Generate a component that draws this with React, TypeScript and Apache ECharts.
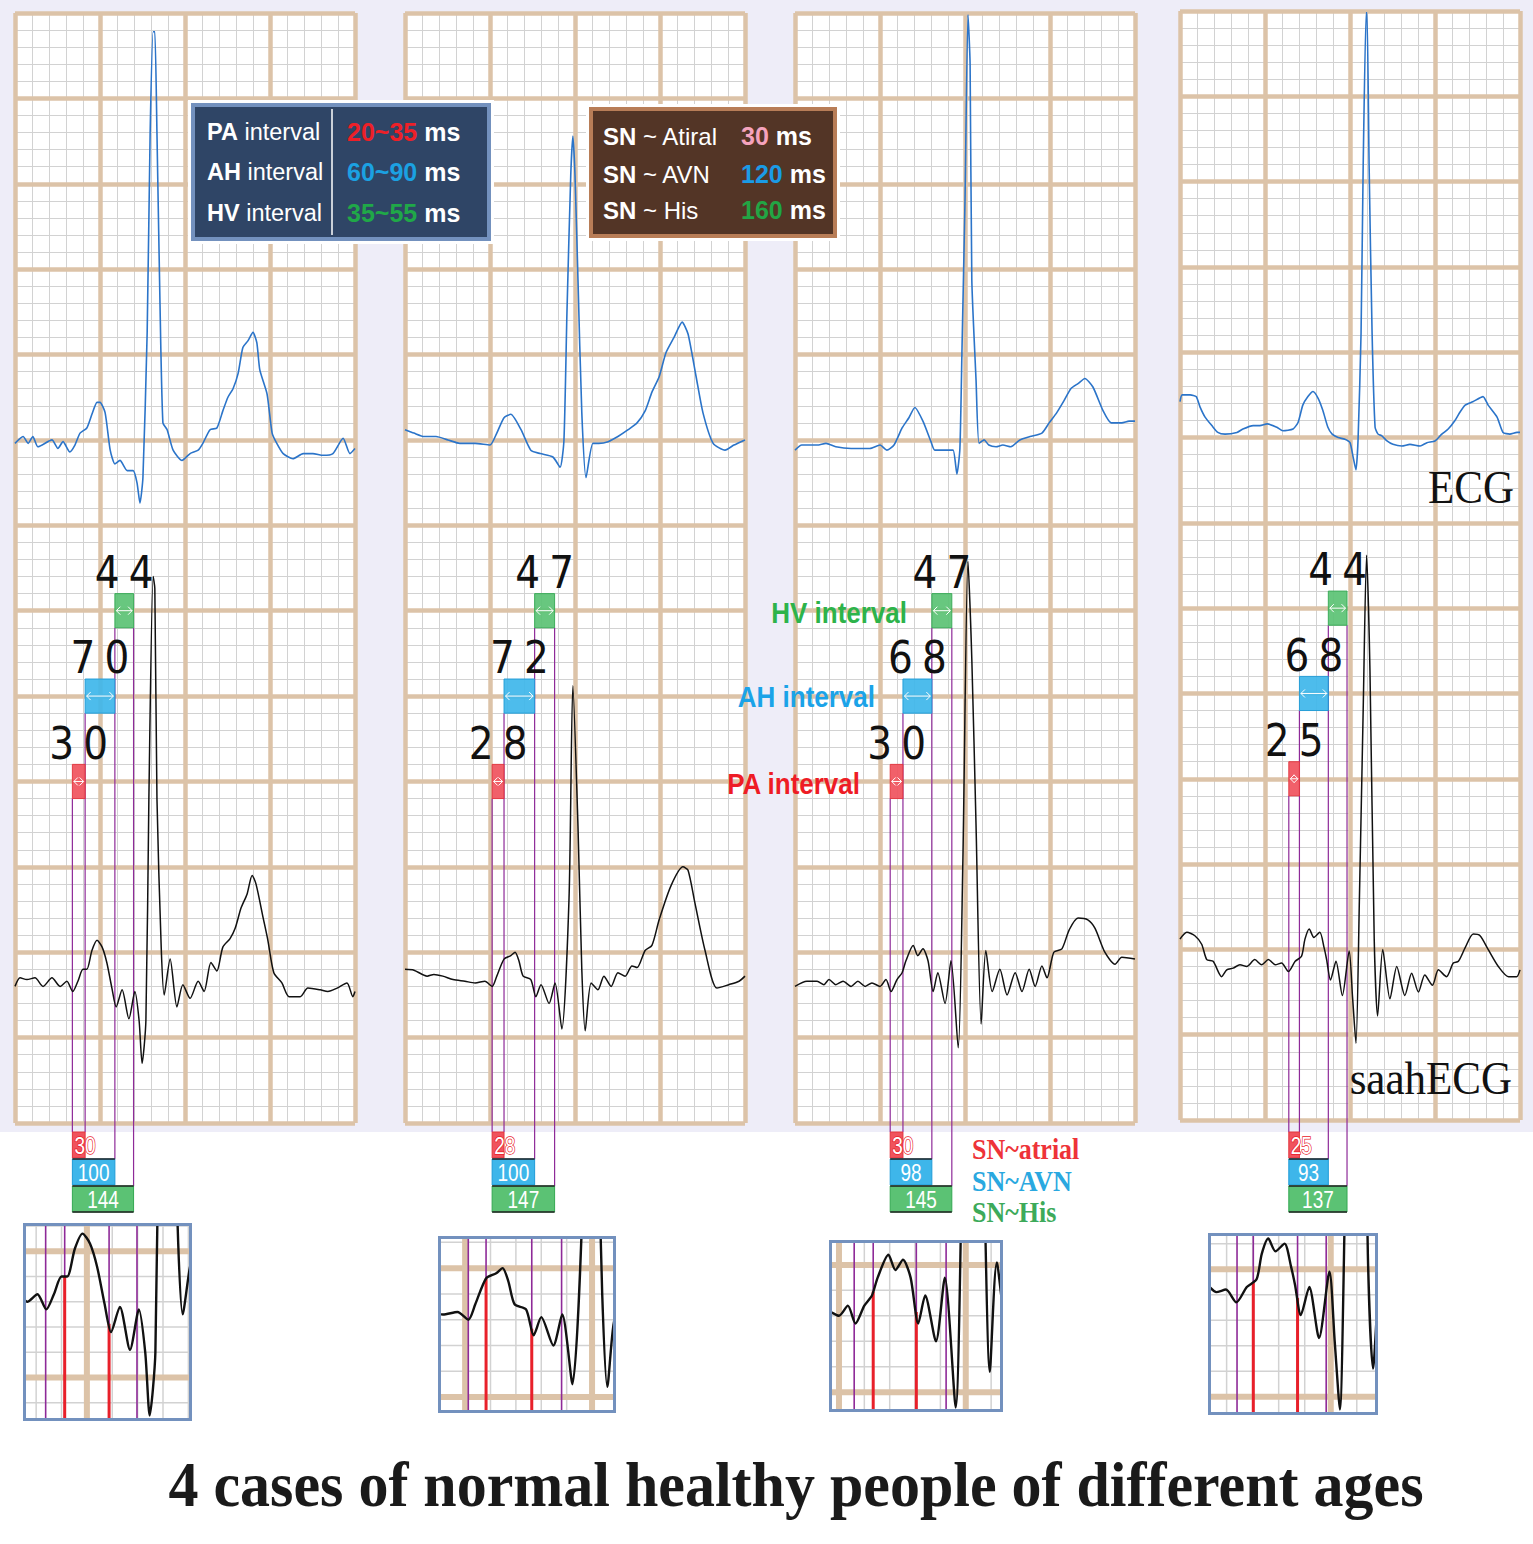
import React, { useEffect, useRef } from "react";
import * as echarts from "echarts";

type Pt = [number, number];

// ---------------- data (time in ms, amplitude in mV on the paper scale) ----------------
const ecgCase1: Pt[] = [[0,3.98],[19,4.02],[31,3.98],[42,4.02],[54,3.96],[87,4.00],[101,3.95],[113,3.99],[129,3.93],[141,3.97],[153,4.04],[169,4.07],[181,4.15],[193,4.22],[200,4.22],[212,4.16],[224,3.94],[235,3.86],[247,3.88],[264,3.82],[278,3.82],[287,3.75],[294,3.63],[301,3.78],[311,4.63],[318,5.80],[325,6.39],[329,6.39],[334,5.80],[341,4.82],[348,4.10],[358,4.06],[372,3.94],[393,3.88],[412,3.92],[431,3.94],[442,3.98],[459,4.06],[475,4.07],[489,4.17],[501,4.25],[513,4.30],[525,4.39],[536,4.54],[548,4.58],[560,4.63],[569,4.57],[576,4.41],[593,4.27],[605,4.04],[616,3.98],[631,3.92],[654,3.89],[678,3.92],[701,3.92],[725,3.91],[748,3.92],[772,4.01],[788,3.92],[800,3.95]];
const saahCase1: Pt[] = [[0,0.80],[12,0.85],[28,0.84],[47,0.85],[66,0.80],[87,0.85],[106,0.80],[122,0.83],[136,0.77],[148,0.83],[160,0.90],[169,0.90],[181,1.01],[193,1.07],[205,1.03],[216,0.94],[228,0.79],[238,0.68],[252,0.78],[268,0.61],[282,0.77],[292,0.60],[299,0.35],[308,0.60],[315,1.90],[325,3.20],[329,3.13],[334,1.90],[344,1.03],[351,0.75],[365,0.96],[381,0.68],[395,0.81],[412,0.73],[431,0.83],[445,0.77],[461,0.94],[475,0.89],[489,1.03],[506,1.08],[518,1.14],[532,1.26],[546,1.34],[558,1.45],[567,1.40],[584,1.20],[595,1.07],[609,0.88],[628,0.82],[645,0.74],[671,0.74],[689,0.79],[718,0.78],[736,0.77],[758,0.79],[781,0.82],[795,0.74],[800,0.77]];
const ecgCase2: Pt[] = [[0,4.06],[21,4.04],[45,4.02],[73,4.02],[101,4.00],[129,3.98],[165,3.98],[200,3.97],[216,4.04],[233,4.13],[249,4.15],[273,4.06],[296,3.94],[318,3.92],[348,3.90],[365,3.84],[374,4.00],[381,4.74],[390,5.55],[395,5.78],[400,5.55],[407,4.94],[416,4.16],[426,3.78],[442,3.98],[456,3.98],[478,3.99],[501,4.02],[525,4.06],[546,4.10],[565,4.17],[581,4.28],[598,4.37],[614,4.51],[633,4.60],[652,4.69],[666,4.62],[685,4.37],[701,4.16],[725,3.98],[753,3.94],[774,3.97],[800,4.00]];
const saahCase2: Pt[] = [[0,0.90],[21,0.895],[52,0.86],[68,0.87],[89,0.86],[113,0.84],[141,0.83],[165,0.82],[188,0.83],[205,0.80],[216,0.86],[233,0.96],[249,0.98],[259,1.00],[268,0.95],[278,0.86],[296,0.84],[308,0.74],[320,0.81],[339,0.70],[353,0.82],[369,0.55],[386,1.32],[395,2.56],[407,1.74],[416,0.90],[424,0.54],[438,0.82],[454,0.78],[468,0.86],[485,0.80],[501,0.88],[518,0.86],[534,0.92],[546,0.91],[565,1.01],[581,1.04],[598,1.19],[626,1.39],[654,1.50],[666,1.48],[682,1.29],[706,1.01],[734,0.79],[762,0.81],[786,0.83],[800,0.86]];
const ecgCase3: Pt[] = [[0,3.94],[16,3.97],[52,3.97],[73,3.98],[96,3.96],[132,3.95],[176,3.95],[200,3.97],[216,3.94],[233,3.97],[252,4.07],[268,4.13],[282,4.19],[301,4.11],[320,3.99],[329,3.94],[360,3.94],[372,3.94],[381,3.80],[388,3.95],[393,4.54],[400,5.40],[407,6.49],[412,6.20],[416,4.94],[426,4.35],[433,3.98],[445,4.00],[456,3.97],[473,3.96],[489,3.97],[508,3.96],[529,4.00],[553,4.02],[581,4.04],[598,4.10],[616,4.16],[633,4.23],[649,4.30],[666,4.33],[682,4.36],[701,4.31],[725,4.17],[744,4.10],[769,4.10],[786,4.11],[800,4.11]];
const saahCase3: Pt[] = [[0,0.80],[28,0.83],[52,0.83],[68,0.81],[80,0.84],[96,0.81],[113,0.83],[132,0.80],[148,0.83],[165,0.80],[181,0.82],[200,0.80],[214,0.84],[226,0.77],[240,0.84],[252,0.88],[261,0.95],[278,1.04],[289,0.98],[301,1.02],[313,0.95],[325,0.77],[336,0.88],[353,0.70],[367,0.95],[384,0.44],[395,1.54],[407,3.29],[416,2.72],[426,1.74],[438,0.58],[449,1.01],[464,0.77],[482,0.90],[499,0.75],[518,0.88],[534,0.77],[551,0.90],[565,0.80],[581,0.92],[593,0.85],[609,1.00],[628,1.02],[645,1.13],[666,1.20],[689,1.19],[706,1.14],[729,1.00],[753,0.93],[769,0.97],[800,0.96]];
const ecgCase4: Pt[] = [[0,4.21],[5,4.25],[24,4.25],[38,4.24],[47,4.18],[59,4.12],[75,4.07],[89,4.03],[106,4.02],[134,4.03],[148,4.05],[172,4.07],[188,4.07],[205,4.08],[228,4.06],[242,4.04],[266,4.05],[278,4.09],[289,4.19],[301,4.24],[313,4.27],[325,4.23],[336,4.16],[348,4.06],[358,4.02],[372,4.00],[388,3.99],[400,3.97],[407,3.89],[414,3.81],[419,3.99],[426,4.61],[431,5.59],[438,6.49],[440,6.49],[445,5.59],[452,4.61],[459,4.06],[466,4.02],[475,4.01],[487,3.98],[501,3.96],[522,3.95],[541,3.96],[565,3.95],[581,3.97],[600,3.98],[616,4.02],[631,4.05],[647,4.10],[659,4.15],[671,4.19],[689,4.21],[713,4.24],[725,4.19],[746,4.12],[760,4.03],[776,4.02],[793,4.03],[800,4.03]];
const saahCase4: Pt[] = [[0,1.06],[16,1.10],[35,1.08],[51,1.03],[63,0.94],[78,0.93],[98,0.84],[110,0.88],[125,0.89],[141,0.91],[157,0.90],[176,0.94],[192,0.91],[208,0.94],[224,0.91],[239,0.92],[255,0.87],[271,0.93],[286,0.96],[294,1.06],[304,1.12],[315,1.07],[329,1.10],[339,1.01],[345,0.94],[354,0.82],[367,0.93],[382,0.73],[398,0.99],[406,0.72],[414,0.45],[422,1.28],[431,2.40],[439,3.31],[447,2.63],[457,1.06],[465,0.61],[477,1.00],[494,0.71],[510,0.90],[529,0.73],[545,0.86],[561,0.75],[576,0.85],[594,0.79],[608,0.88],[627,0.84],[643,0.92],[655,0.93],[671,1.01],[690,1.09],[706,1.08],[725,1.00],[749,0.90],[773,0.84],[792,0.84],[800,0.88]];

const paStartMs = [135, 205, 224, 256];
const paInterval = [30, 28, 30, 25];
const ahInterval = [70, 72, 68, 68];
const hvInterval = [44, 47, 47, 44];
const snAtrialMs = [30, 28, 30, 25];
const snAvnMs = [100, 100, 98, 93];
const snHisMs = [144, 147, 145, 137];

const intervalNames = ["PA", "AH", "HV"];
const normalRanges = ["20~35", "60~90", "35~55"];
const snTargets = ["~ Atiral", "~ AVN", "~ His"];
const snTimes = ["30", "120", "160"];
const legendLabels = ["SN~atrial", "SN~AVN", "SN~His"];
const titleText = "4 cases of normal healthy people of different ages";

const caseEcg = [ecgCase1, ecgCase2, ecgCase3, ecgCase4];
const caseSaah = [saahCase1, saahCase2, saahCase3, saahCase4];

// ---------------- layout & style ----------------
const W = 1533, H = 1544;
const PANEL_LEFT = [15, 405, 795, 1180];
const PANEL_TOP = [13, 13, 13, 11];
const PANEL_H = [1110, 1110, 1110, 1109];
const PANEL_W = 340;
const ROW_TOP = [1132, 1159, 1186];
const ROW_H = 26;
const INSET_BOX = [[23, 1223, 169, 198], [438, 1236, 178, 177], [829, 1240, 174, 172], [1208, 1233, 170, 182]];
const INSET_X = [[104, 361], [162, 433], [189, 454], [216, 468]];
const INSET_Y = [[0.34, 1.10], [0.45, 1.113], [0.434, 1.086], [0.44, 1.13]];

const TAN = "#DCC3A8";
const GREY = "#D2D2D2";
const PURPLE = "#8E2A98";
const ECG_BLUE = "#2B74C9";
const SANS = '"Liberation Sans", Arial, sans-serif';
const SERIF = '"Liberation Serif", "Times New Roman", serif';
const DIGIT = '"DejaVu Sans", sans-serif';
const BOX_COLORS = [
  { fill: "#F0535D", stroke: "#E3343D" },
  { fill: "#3EB6EA", stroke: "#1E9BD7" },
  { fill: "#5BC274", stroke: "#34A852" },
];
const RANGE_COLORS = ["#EE2028", "#1BA1E2", "#20A848"];
const SN_COLORS = ["#F5A3BD", "#1A9BE6", "#22A544"];
const LEGEND_COLORS = ["#EE3338", "#2AA8E0", "#3DAA5A"];
const LABEL_COLORS = ["#EE1C25", "#1BA3E8", "#2DB34A"];

function interp(data: Pt[], t: number) {
  for (let i = 1; i < data.length; i++) {
    if (data[i][0] >= t) {
      const [x0, y0] = data[i - 1];
      const [x1, y1] = data[i];
      return y0 + ((y1 - y0) * (t - x0)) / (x1 - x0 || 1);
    }
  }
  return data[data.length - 1][1];
}

function txt(text: string, x: number, y: number, o: any) {
  const align = o.align || "left";
  return {
    type: "text",
    x,
    y,
    scaleY: o.scaleY || 1,
    z: o.z,
    style: {
      text,
      fill: o.fill || "#000",
      stroke: o.stroke,
      lineWidth: o.lineWidth,
      fontSize: o.fontSize,
      fontFamily: o.fontFamily,
      fontWeight: o.fontWeight || "normal",
      rich: o.rich,
      align,
      textAlign: align,
      verticalAlign: "middle",
      textVerticalAlign: "middle",
    },
  };
}

function mainMarkers(params: any, api: any) {
  const t0 = api.value(0);
  const pa = api.value(1), ah = api.value(2), hv = api.value(3);
  const sums = [api.value(4), api.value(5), api.value(6)];
  const tA = t0 + pa, tH = tA + ah, tV = tH + hv;
  const X = (t: number) => api.coord([t, 0])[0];
  const Y = (v: number) => api.coord([0, v])[1];
  const children: any[] = [];
  const vline = (x: number, ya: number, yb: number) => ({
    type: "line",
    shape: { x1: x, y1: ya, x2: x, y2: yb },
    style: { stroke: PURPLE, lineWidth: 1.2 },
  });
  children.push(vline(X(t0), Y(1.9), ROW_TOP[0]));
  children.push(vline(X(tA), Y(2.4), ROW_TOP[0]));
  children.push(vline(X(tH), Y(2.9), ROW_TOP[1]));
  children.push(vline(X(tV), Y(2.9), ROW_TOP[2]));

  const boxes: [number, number, number, number][] = [
    [t0, tA, 2.0, pa],
    [tA, tH, 2.5, ah],
    [tH, tV, 3.0, hv],
  ];
  boxes.forEach(([a, b, c, val], i) => {
    const x1 = X(a), x2 = X(b), yTop = Y(c + 0.1), yBot = Y(c - 0.1), cy = Y(c);
    children.push({
      type: "rect",
      shape: { x: x1, y: yTop, width: x2 - x1, height: yBot - yTop },
      style: { fill: BOX_COLORS[i].fill, stroke: BOX_COLORS[i].stroke, lineWidth: 1, opacity: 0.92 },
    });
    children.push({ type: "line", shape: { x1: x1 + 1.5, y1: cy, x2: x2 - 1.5, y2: cy }, style: { stroke: "#fff", lineWidth: 1 } });
    children.push({ type: "polyline", shape: { points: [[x1 + 5.5, cy - 4], [x1 + 1.5, cy], [x1 + 5.5, cy + 4]] }, style: { stroke: "#fff", fill: "none", lineWidth: 1 } });
    children.push({ type: "polyline", shape: { points: [[x2 - 5.5, cy - 4], [x2 - 1.5, cy], [x2 - 5.5, cy + 4]] }, style: { stroke: "#fff", fill: "none", lineWidth: 1 } });
    const s = String(val);
    const cx = (x1 + x2) / 2;
    for (let k = 0; k < s.length; k++) {
      children.push(txt(s[k], cx + (k - (s.length - 1) / 2) * 34, yTop - 21, {
        align: "center", fontSize: 39, fontFamily: DIGIT, fill: "#111", scaleY: 1.13,
      }));
    }
  });

  // cumulative SN labels below the panel
  sums.forEach((v, i) => {
    const x1 = X(t0), x2 = X(t0 + v);
    const y = ROW_TOP[i];
    children.push({
      type: "rect",
      shape: { x: x1, y, width: x2 - x1, height: ROW_H },
      style: { fill: BOX_COLORS[i].fill, stroke: BOX_COLORS[i].stroke, lineWidth: 1 },
    });
    if (i > 0) {
      children.push({ type: "line", shape: { x1, y1: y, x2, y2: y }, style: { stroke: "#222", lineWidth: 1.5 } });
    }
    if (i === 2) {
      children.push({ type: "line", shape: { x1, y1: y + ROW_H, x2, y2: y + ROW_H }, style: { stroke: "#222", lineWidth: 1.5 } });
    }
    if (i === 0) {
      children.push(txt(String(v), x1 + 2, y + ROW_H / 2 + 1, {
        fontSize: 19, fontFamily: SANS, fill: "#fff", stroke: "#E8202A", lineWidth: 1.2, scaleY: 1.25,
      }));
    } else {
      children.push(txt(String(v), (x1 + x2) / 2, y + ROW_H / 2 + 1, {
        align: "center", fontSize: 19, fontFamily: SANS, fill: "#fff", scaleY: 1.25,
      }));
    }
  });
  return { type: "group", children };
}

function paperItems(xw: number[], yw: number[]) {
  const minor: number[][] = [];
  const major: number[][] = [];
  for (let t = Math.ceil(xw[0] / 40) * 40; t <= xw[1]; t += 40) {
    (t % 200 === 0 ? major : minor).push([t, t % 200 === 0 ? 1 : 0]);
  }
  for (let k = Math.ceil(yw[0] * 10); k <= Math.floor(yw[1] * 10); k++) {
    (k % 5 === 0 ? major : minor).push([k / 10, k % 5 === 0 ? 3 : 2]);
  }
  return minor.concat(major);
}

function paperRender(xw: number[], yw: number[]) {
  return (params: any, api: any) => {
    const v = api.value(0), kind = api.value(1);
    const vertical = kind < 2;
    const major = kind % 2 === 1;
    const a = vertical ? api.coord([v, yw[0]]) : api.coord([xw[0], v]);
    const b = vertical ? api.coord([v, yw[1]]) : api.coord([xw[1], v]);
    return {
      type: "line",
      shape: { x1: a[0], y1: a[1], x2: b[0], y2: b[1] },
      style: { stroke: major ? TAN : GREY, lineWidth: major ? 6 : 1.5 },
    };
  };
}

function insetMarkers(trace: Pt[], yw: number[]) {
  return (params: any, api: any) => {
    const t0 = api.value(0);
    const tA = t0 + api.value(1), tH = tA + api.value(2), tV = tH + api.value(3);
    const top = api.coord([t0, yw[1]])[1];
    const bot = api.coord([t0, yw[0]])[1];
    const X = (t: number) => api.coord([t, yw[0]])[0];
    const children: any[] = [];
    [t0, tA, tH, tV].forEach((t) => {
      children.push({ type: "line", shape: { x1: X(t), y1: top, x2: X(t), y2: bot }, style: { stroke: PURPLE, lineWidth: 1.6 } });
    });
    [tA, tH].forEach((t) => {
      const yv = api.coord([t, interp(trace, t)])[1];
      children.push({ type: "line", shape: { x1: X(t), y1: yv, x2: X(t), y2: bot }, style: { stroke: "#E8202A", lineWidth: 3 } });
    });
    return { type: "group", children };
  };
}

function buildOption() {
  const grid: any[] = [];
  const xAxis: any[] = [];
  const yAxis: any[] = [];
  const series: any[] = [];
  const graphic: any[] = [];

  const axis = (gi: number, min: number, max: number, extra: any = {}) => ({
    type: "value",
    gridIndex: gi,
    min,
    max,
    axisLine: { show: false },
    axisTick: { show: false },
    axisLabel: { show: false },
    splitLine: { show: false },
    ...extra,
  });

  for (let p = 0; p < 4; p++) {
    grid.push({ left: PANEL_LEFT[p], top: PANEL_TOP[p], width: PANEL_W, height: PANEL_H[p], show: true, backgroundColor: "#fff", borderWidth: 0 });
    const gi = grid.length - 1;
    xAxis.push(axis(gi, 0, 800, { interval: 40, z: 1, splitLine: { show: true, lineStyle: { color: GREY, width: 1 } } }));
    xAxis.push(axis(gi, 0, 800, { interval: 200, z: 2, splitLine: { show: true, lineStyle: { color: TAN, width: 4.5 } } }));
    yAxis.push(axis(gi, 0, 6.5, { interval: 0.1, z: 1, splitLine: { show: true, lineStyle: { color: GREY, width: 1 } } }));
    yAxis.push(axis(gi, 0, 6.5, { interval: 0.5, z: 2, splitLine: { show: true, lineStyle: { color: TAN, width: 4.5 } } }));
    const xi = xAxis.length - 1, yi = yAxis.length - 1;
    series.push({
      type: "custom", name: "intervals " + (p + 1), xAxisIndex: xi, yAxisIndex: yi, clip: false, z: 4, silent: true,
      data: [[paStartMs[p], paInterval[p], ahInterval[p], hvInterval[p], snAtrialMs[p], snAvnMs[p], snHisMs[p]]],
      renderItem: mainMarkers,
    });
    series.push({
      type: "line", name: "ECG " + (p + 1), xAxisIndex: xi, yAxisIndex: yi, data: caseEcg[p], showSymbol: false, symbol: "none",
      smooth: 0.2, lineStyle: { color: ECG_BLUE, width: 1.6 }, z: 5, silent: true,
    });
    series.push({
      type: "line", name: "saahECG " + (p + 1), xAxisIndex: xi, yAxisIndex: yi, data: caseSaah[p], showSymbol: false, symbol: "none",
      smooth: 0.25, lineStyle: { color: "#111", width: 1.5 }, z: 5, silent: true,
    });
  }

  for (let p = 0; p < 4; p++) {
    const [bx, by, bw, bh] = INSET_BOX[p];
    const xw = INSET_X[p], yw = INSET_Y[p];
    grid.push({ left: bx + 3, top: by + 3, width: bw - 6, height: bh - 6, show: true, backgroundColor: "#fff", borderWidth: 0 });
    const gi = grid.length - 1;
    xAxis.push(axis(gi, xw[0], xw[1]));
    yAxis.push(axis(gi, yw[0], yw[1]));
    const xi = xAxis.length - 1, yi = yAxis.length - 1;
    series.push({ type: "custom", xAxisIndex: xi, yAxisIndex: yi, clip: true, z: 3, silent: true, data: paperItems(xw, yw), renderItem: paperRender(xw, yw) });
    series.push({
      type: "custom", xAxisIndex: xi, yAxisIndex: yi, clip: true, z: 4, silent: true,
      data: [[paStartMs[p], paInterval[p], ahInterval[p], hvInterval[p]]], renderItem: insetMarkers(caseSaah[p], yw),
    });
    series.push({
      type: "line", xAxisIndex: xi, yAxisIndex: yi, data: caseSaah[p], showSymbol: false, symbol: "none", clip: true,
      smooth: 0.25, lineStyle: { color: "#111", width: 2.4 }, z: 5, silent: true,
    });
    graphic.push({ type: "rect", z: 50, shape: { x: bx + 1.5, y: by + 1.5, width: bw - 3, height: bh - 3 }, style: { fill: "none", stroke: "#7391BE", lineWidth: 3 } });
  }

  // navy info box
  graphic.push({ type: "rect", z: 100, shape: { x: 188, y: 100, width: 306, height: 144 }, style: { fill: "#fff" } });
  graphic.push({ type: "rect", z: 100, shape: { x: 191, y: 103, width: 300, height: 138 }, style: { fill: "#7391BE" } });
  graphic.push({ type: "rect", z: 100, shape: { x: 195, y: 107, width: 292, height: 130 }, style: { fill: "#2F4566" } });
  graphic.push({ type: "line", z: 101, shape: { x1: 332, y1: 109, x2: 332, y2: 235 }, style: { stroke: "#fff", lineWidth: 1.5 } });
  const navyRows = [132, 172, 213];
  intervalNames.forEach((n, i) => {
    graphic.push(txt(`{b|${n}} {r|interval}`, 207, navyRows[i], {
      z: 102, fontSize: 23.5, fontFamily: SANS, fill: "#fff",
      rich: {
        b: { fontWeight: "bold", fontSize: 23.5, fontFamily: SANS, fill: "#fff" },
        r: { fontSize: 23.5, fontFamily: SANS, fill: "#fff" },
      },
    }));
    graphic.push(txt(`{c|${normalRanges[i]}} {w|ms}`, 347, navyRows[i], {
      z: 102, fontSize: 25, fontFamily: SANS, fill: "#fff", fontWeight: "bold",
      rich: {
        c: { fontWeight: "bold", fontSize: 25, fontFamily: SANS, fill: RANGE_COLORS[i] },
        w: { fontWeight: "bold", fontSize: 25, fontFamily: SANS, fill: "#fff" },
      },
    }));
  });

  // brown info box
  graphic.push({ type: "rect", z: 100, shape: { x: 586, y: 104, width: 254, height: 137 }, style: { fill: "#fff" } });
  graphic.push({ type: "rect", z: 100, shape: { x: 589, y: 107, width: 248, height: 131 }, style: { fill: "#B87D57" } });
  graphic.push({ type: "rect", z: 100, shape: { x: 593, y: 111, width: 240, height: 123 }, style: { fill: "#533526" } });
  const brownRows = [136, 174, 210];
  snTargets.forEach((n, i) => {
    graphic.push(txt(`{b|SN} {r|${n}}`, 603, brownRows[i], {
      z: 102, fontSize: 24, fontFamily: SANS, fill: "#fff",
      rich: {
        b: { fontWeight: "bold", fontSize: 24, fontFamily: SANS, fill: "#fff" },
        r: { fontSize: 24, fontFamily: SANS, fill: "#fff" },
      },
    }));
    graphic.push(txt(`{c|${snTimes[i]}} {w|ms}`, 741, brownRows[i], {
      z: 102, fontSize: 25, fontFamily: SANS, fill: "#fff", fontWeight: "bold",
      rich: {
        c: { fontWeight: "bold", fontSize: 25, fontFamily: SANS, fill: SN_COLORS[i] },
        w: { fontWeight: "bold", fontSize: 25, fontFamily: SANS, fill: "#fff" },
      },
    }));
  });

  // interval labels in panel 3 (HV, AH, PA)
  const labelPos = [[860, 784], [875, 697], [907, 613]];
  intervalNames.forEach((n, i) => {
    graphic.push(txt(`${n} interval`, labelPos[i][0], labelPos[i][1], {
      z: 60, align: "right", fontSize: 26, fontWeight: "bold", fontFamily: SANS, fill: LABEL_COLORS[i], scaleY: 1.15,
    }));
  });

  // trace names
  graphic.push(txt("ECG", 1514, 487, { z: 60, align: "right", fontSize: 43, fontFamily: SERIF, fill: "#111", scaleY: 1.1 }));
  graphic.push(txt("saahECG", 1512, 1078, { z: 60, align: "right", fontSize: 43, fontFamily: SERIF, fill: "#111", scaleY: 1.1 }));

  // legend for cumulative bars
  const legendRows = [1149, 1181, 1212];
  legendLabels.forEach((l, i) => {
    graphic.push(txt(l, 972, legendRows[i], { z: 60, fontSize: 26, fontWeight: "bold", fontFamily: SERIF, fill: LEGEND_COLORS[i], scaleY: 1.15 }));
  });

  // title
  graphic.push(txt(titleText, 796, 1484, { z: 60, align: "center", fontSize: 60, fontWeight: "bold", fontFamily: SERIF, fill: "#1a1a1a", scaleY: 1.05 }));

  return {
    animation: false,
    backgroundColor: "transparent",
    grid,
    xAxis,
    yAxis,
    series,
    graphic: { elements: graphic },
  };
}

export default function App() {
  const ref = useRef<HTMLDivElement>(null);
  useEffect(() => {
    const el = ref.current;
    if (!el) return;
    const chart = echarts.init(el, undefined, { renderer: "svg", width: W, height: H });
    chart.setOption(buildOption() as any);
    return () => chart.dispose();
  }, []);
  return (
    <div
      ref={ref}
      style={{
        position: "absolute",
        left: 0,
        top: 0,
        width: W,
        height: H,
        background: "linear-gradient(to bottom, #EEEDF8 0px, #EEEDF8 1132px, #ffffff 1132px, #ffffff 100%)",
      }}
    />
  );
}
